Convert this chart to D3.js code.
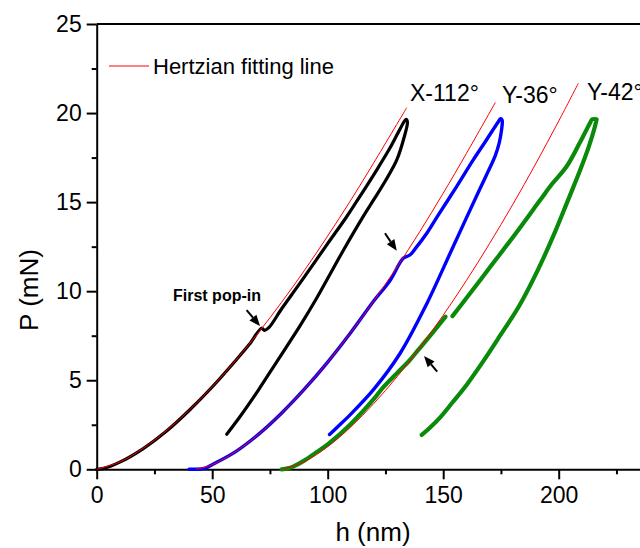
<!DOCTYPE html>
<html>
<head>
<meta charset="utf-8">
<script src="https://cdn.jsdelivr.net/npm/d3@7/dist/d3.min.js"></script>
<style>
  html, body { margin: 0; padding: 0; background: #fff; }
  svg { display: block; }
  text { font-family: "Liberation Sans", Arial, sans-serif; }
</style>
</head>
<body>
<svg id="chart" width="640" height="548"></svg>
<script>
// ---------- data (h in nm, P in mN) ----------
const xMajorTicks = [0, 50, 100, 150, 200];
const xMinorTicks = [25, 75, 125, 175, 225];
const yMajorTicks = [0, 5, 10, 15, 20, 25];
const yMinorTicks = [2.5, 7.5, 12.5, 17.5, 22.5];

const seriesNames = ["X-112°", "Y-36°", "Y-42°"];
const seriesColors = ["#000000", "#0000ff", "#0a8a0a"];

// X-112° : loading + unloading
const x112Load = [[0,0],[3,0.05],[10,0.4],[20,1.15],[30,2.12],[40,3.3],[50,4.62],[60,6.08],[66,7.0],[71.4,7.92],[72.6,7.8],[74.5,7.95],[80,9.0],[88,10.45],[99.6,12.6],[108.2,14.18],[112.6,15.05],[121.2,16.8],[127,18.05],[131.3,19.1],[133.9,19.65]];
const x112Unload = [[134.5,19.5],[133,18.6],[129.9,17.37],[125,16.2],[120,15.15],[115.4,14.2],[106.8,12.3],[95.2,9.6],[88,8.05],[78,6.05],[70,4.45],[62,2.95],[56.3,1.97]];

// Y-36°
const y36Load = [[40,0],[45,0.02],[47,0.06],[50,0.26],[60,0.98],[70,1.96],[80,3.15],[90,4.51],[100,6.02],[110,7.68],[120,9.46],[127,10.6],[132.7,11.85],[135.6,12.03],[138,12.4],[142.9,13.25],[147.5,14.2],[155.8,15.87],[163,17.37],[168,18.35],[171.5,19.05],[173.8,19.5],[174.8,19.68]];
const y36Unload = [[175.5,19.6],[175.2,19.0],[174.2,18.3],[172.5,17.6],[169,16.6],[165,15.5],[160,14.1],[152.9,12.1],[142.9,9.3],[131.3,6.5],[120,4.5],[110,3.1],[104,2.35],[100.8,1.95]];

// Y-42° (loading has a gap near 152 nm)
const y42LoadA = [[80,0],[82.7,0.05],[85,0.15],[90,0.5],[95,0.95],[100,1.4],[110,2.55],[120,3.95],[124,4.6],[130,5.4],[135,6.05],[139.2,6.7],[145,7.6],[151,8.57]];
const y42LoadB = [[154,8.6],[160,9.6],[170,11.3],[180,13.0],[191.9,15.1],[197,16.0],[203.4,17.0],[209,18.3],[213.5,19.43],[214.5,19.65],[216.4,19.65]];
const y42Unload = [[216.4,19.65],[215.6,19.2],[213,18.1],[209,16.7],[204,15.1],[198,13.2],[191,11.2],[183,9.2],[174.6,7.5],[167,6.0],[160.2,4.75],[154,3.75],[148.6,2.9],[144,2.3],[140.7,1.93]];

// Hertzian fitting lines
const fitX112 = [[0,0],[10,0.41],[20,1.17],[30,2.15],[40,3.31],[50,4.63],[60,6.09],[70,7.67],[80,9.37],[90,11.18],[100,13.1],[110,15.11],[120,17.22],[134.2,20.3]];
const fitY36 = [[43,0],[50,0.26],[60,0.98],[70,1.96],[80,3.15],[90,4.51],[100,6.02],[110,7.68],[120,9.46],[130,11.36],[140,13.37],[150,15.5],[160,17.72],[172.6,20.6]];
const fitY42 = [[80.7,0],[90,0.43],[100,1.27],[110,2.38],[120,3.7],[130,5.19],[140,6.85],[150,8.65],[160,10.59],[170,12.66],[180,14.84],[190,17.14],[200,19.55],[208.5,21.67]];

const legendLabel = "Hertzian fitting line";
const popInLabel = "First pop-in";
// arrows: [tail, tip] in data units
const arrows = [
  [[64.9, 8.94], [70.7, 8.04]],
  [[124.8, 13.25], [129.9, 12.27]],
  [[147.4, 5.48], [141.7, 6.36]]
];

// ---------- layout ----------
const svg = d3.select("#chart");
const mLeft = 96.7, mBottom = 469.3, mTop = 24;
const x = d3.scaleLinear().domain([0, 240]).range([mLeft, mLeft + 240 * 2.31]);
const y = d3.scaleLinear().domain([0, 25]).range([mBottom, mTop]);

const FONT = "Liberation Sans, Arial, sans-serif";

// frame top line
svg.append("line")
  .attr("x1", mLeft).attr("x2", x(240)).attr("y1", mTop).attr("y2", mTop)
  .attr("stroke", "#000").attr("stroke-width", 2);

// axes
function styleAxis(g) {
  g.select(".domain").attr("stroke-width", 2);
  g.selectAll(".tick line").attr("stroke-width", 2);
  g.selectAll(".tick text").attr("font-family", FONT).attr("font-size", 23).attr("fill", "#000");
}
const gx = svg.append("g").attr("transform", `translate(0,${mBottom})`)
  .call(d3.axisBottom(x).tickValues(xMajorTicks).tickSize(10).tickPadding(7).tickSizeOuter(0));
styleAxis(gx);
const gxm = svg.append("g").attr("transform", `translate(0,${mBottom})`)
  .call(d3.axisBottom(x).tickValues(xMinorTicks).tickSize(5).tickFormat("").tickSizeOuter(0));
gxm.select(".domain").remove();
gxm.selectAll(".tick line").attr("stroke-width", 2);

const gy = svg.append("g").attr("transform", `translate(${mLeft},0)`)
  .call(d3.axisLeft(y).tickValues(yMajorTicks).tickSize(10).tickPadding(5).tickSizeOuter(0));
styleAxis(gy);
const gym = svg.append("g").attr("transform", `translate(${mLeft},0)`)
  .call(d3.axisLeft(y).tickValues(yMinorTicks).tickSize(5).tickFormat("").tickSizeOuter(0));
gym.select(".domain").remove();
gym.selectAll(".tick line").attr("stroke-width", 2);

// axis titles
svg.append("text").attr("x", 373).attr("y", 541).attr("text-anchor", "middle")
  .attr("font-size", 26).attr("font-family", FONT).text("h (nm)");
svg.append("text").attr("transform", "translate(38,290) rotate(-90)").attr("text-anchor", "middle")
  .attr("font-size", 26).attr("font-family", FONT).text("P (mN)");

// data curves
const line = d3.line().x(d => x(d[0])).y(d => y(d[1])).curve(d3.curveCatmullRom.alpha(0.5));
const dataSets = [
  { segs: [x112Load.concat(x112Unload)], color: seriesColors[0], w: 3.2 },
  { segs: [y36Load.concat(y36Unload)], color: seriesColors[1], w: 3.4 },
  { segs: [y42LoadA, y42LoadB.concat(y42Unload)], color: seriesColors[2], w: 4.2 }
];
dataSets.forEach(ds => {
  ds.segs.forEach(seg => {
    svg.append("path").attr("d", line(seg)).attr("fill", "none")
      .attr("stroke", ds.color).attr("stroke-width", ds.w)
      .attr("stroke-linejoin", "round").attr("stroke-linecap", "round");
  });
});

// fit lines on top
[fitX112, fitY36, fitY42].forEach(f => {
  svg.append("path").attr("d", line(f)).attr("fill", "none")
    .attr("stroke", "#ff0000").attr("stroke-width", 1);
});

// legend
svg.append("line").attr("x1", 109).attr("x2", 149).attr("y1", 66).attr("y2", 66)
  .attr("stroke", "#ff0000").attr("stroke-width", 1.2);
svg.append("text").attr("x", 153).attr("y", 74).attr("font-size", 22).attr("font-family", FONT).text(legendLabel);

// series labels
const labelPos = [[410, 101], [502, 103], [587, 100]];
seriesNames.forEach((n, i) => {
  svg.append("text").attr("x", labelPos[i][0]).attr("y", labelPos[i][1])
    .attr("font-size", 23).attr("font-family", FONT).text(n);
});

// first pop-in label
svg.append("text").attr("x", 173).attr("y", 300.5).attr("font-size", 16).attr("font-weight", "bold")
  .attr("font-family", FONT).text(popInLabel);

// arrows
arrows.forEach(a => {
  const x0 = x(a[0][0]), y0 = y(a[0][1]), x1 = x(a[1][0]), y1 = y(a[1][1]);
  const ang = Math.atan2(y1 - y0, x1 - x0);
  const L = 11, W = 4.5;
  const bx = x1 - L * Math.cos(ang), by = y1 - L * Math.sin(ang);
  svg.append("line").attr("x1", x0).attr("y1", y0).attr("x2", bx).attr("y2", by)
    .attr("stroke", "#000").attr("stroke-width", 2);
  const p = [[x1, y1],
    [bx + W * Math.sin(ang), by - W * Math.cos(ang)],
    [bx - W * Math.sin(ang), by + W * Math.cos(ang)]];
  svg.append("path").attr("d", "M" + p.map(q => q.join(",")).join("L") + "Z").attr("fill", "#000");
});
</script>
</body>
</html>
